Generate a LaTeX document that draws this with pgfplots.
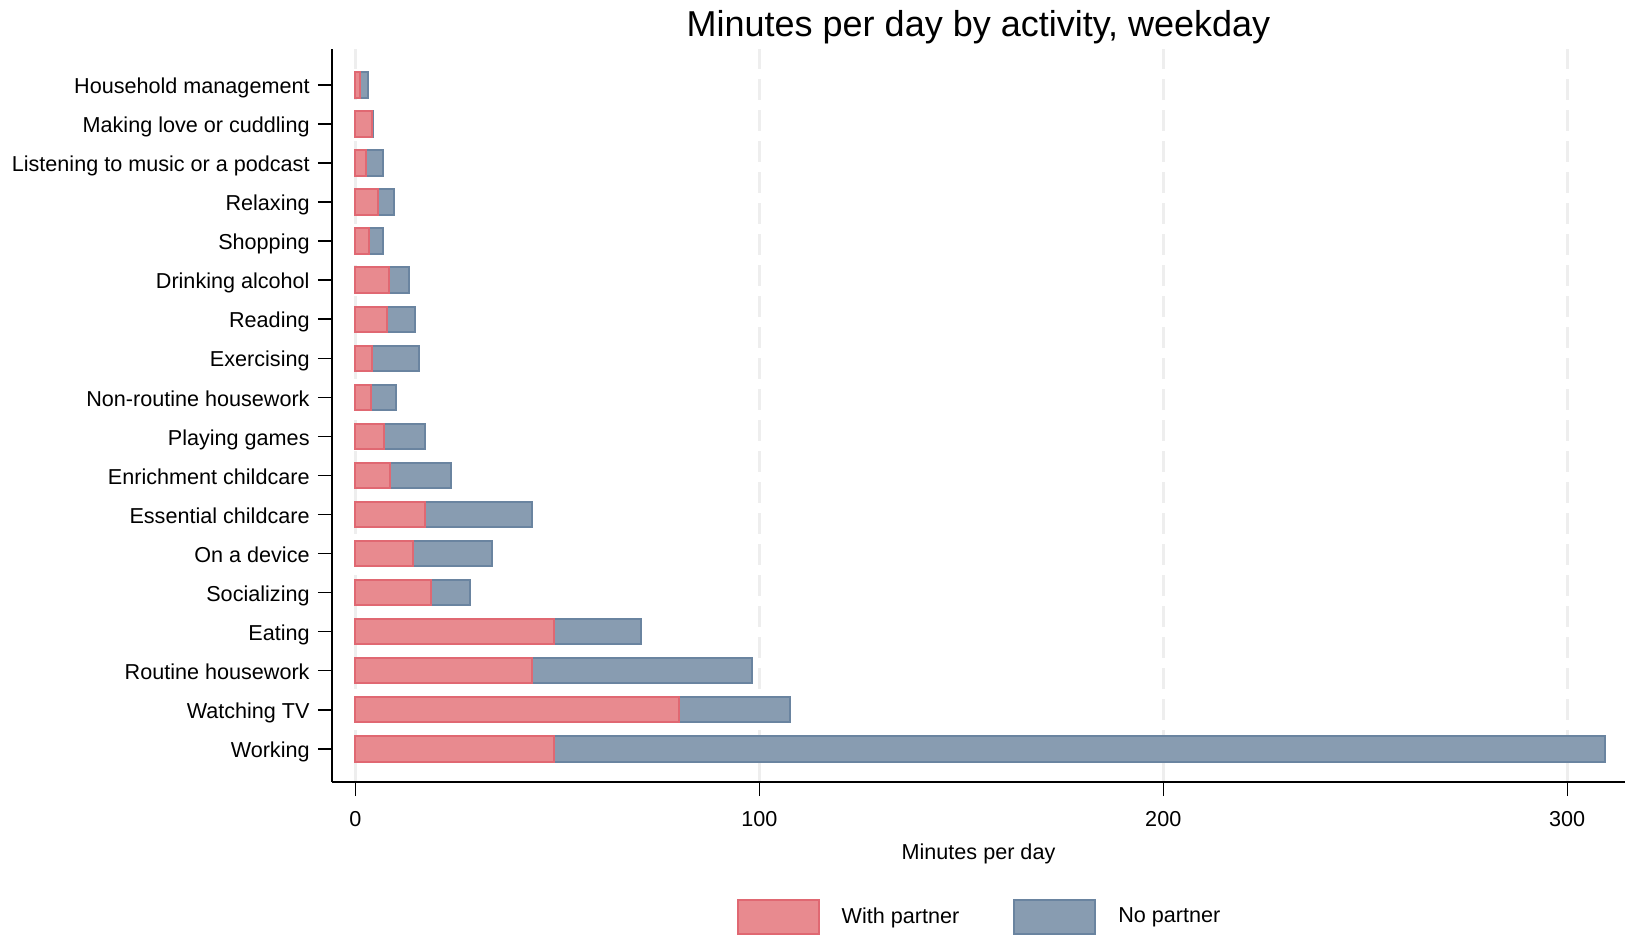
\documentclass[border=0pt]{standalone}
\usepackage{fontspec}
\setmainfont{Liberation Sans}
\usepackage{pgfplots}
\pgfplotsset{compat=1.18}
\definecolor{redfill}{RGB}{232,138,143}
\definecolor{redline}{RGB}{224,104,114}
\definecolor{bluefill}{RGB}{136,156,177}
\definecolor{blueline}{RGB}{106,132,160}
\definecolor{gridc}{RGB}{238,238,238}
\begin{document}
\begin{tikzpicture}
\path[use as bounding box] (-166pt,-77pt) rectangle (646.5pt,391pt);
\begin{axis}[
  scale only axis,
  width=646.5pt, height=366.5pt,
  xbar stacked,
  bar width=12.7pt,
  xmin=-5.77, xmax=314.3,
  ymin=-0.85, ymax=17.92,
  axis x line*=bottom, axis y line*=left,
  axis line style={-, line width=1pt, black},
  tick align=outside,
  major tick length=7pt,
  tick style={line width=0.75pt, black},
  xtick={0,100,200,300},
  ytick={0,...,17},
  yticklabels={Working,Watching TV,Routine housework,Eating,Socializing,On a device,Essential childcare,Enrichment childcare,Playing games,Non-routine housework,Exercising,Reading,Drinking alcohol,Shopping,Relaxing,Listening to music or a podcast,Making love or cuddling,Household management},
  xmajorgrids,
  grid style={gridc, line width=1.5pt, dash pattern=on 10.5pt off 5pt},
  /pgf/number format/assume math mode=true,
  every tick label/.append style={font=\fontsize{10.8}{13}\selectfont},
  yticklabel style={inner sep=0pt, text height=7.7pt, text depth=0pt, xshift=-4pt, yshift=-0.5pt},
  xticklabel style={inner sep=0pt, text height=7.7pt, text depth=0pt, yshift=-7.5pt},
  xlabel={Minutes per day},
  xlabel style={font=\fontsize{10.8}{13}\selectfont, at={(axis description cs:0.5,0)}, anchor=north, inner sep=0pt, yshift=-30.5pt},
  title={Minutes per day by activity, weekday},
  title style={font=\fontsize{18}{21}\selectfont, at={(axis description cs:0.5,1)}, anchor=base, yshift=0pt},
  legend columns=2,
  legend style={at={(axis description cs:0.5,0)}, anchor=center, yshift=-67.5pt, draw=none, font=\fontsize{10.8}{13}\selectfont, nodes={inner xsep=0pt}, /tikz/column 1/.style={column sep=11pt}, /tikz/column 2/.style={column sep=27pt}, /tikz/column 3/.style={column sep=11pt}},
  legend image code/.code={\draw[#1, line width=1pt] (0pt,-8.5pt) rectangle (40.5pt,8.5pt);},
]
\addplot[fill=redfill, draw=redline, line width=1pt] coordinates {
(49.2,0) (80.2,1) (43.7,2) (49.2,3) (18.7,4) (14.2,5) (17.3,6) (8.7,7) (7.1,8) (3.8,9) (4.2,10) (7.8,11) (8.3,12) (3.4,13) (5.5,14) (2.65,15) (4.05,16) (1.2,17)};
\addplot[fill=bluefill, draw=blueline, line width=1pt] coordinates {
(260.1,0) (27.5,1) (54.5,2) (21.6,3) (9.8,4) (19.7,5) (26.5,6) (14.9,7) (10.2,8) (6.2,9) (11.5,10) (6.9,11) (4.9,12) (3.4,13) (4.0,14) (4.15,15) (0.45,16) (1.9,17)};
\legend{With partner, No partner}
\end{axis}
\end{tikzpicture}
\end{document}
